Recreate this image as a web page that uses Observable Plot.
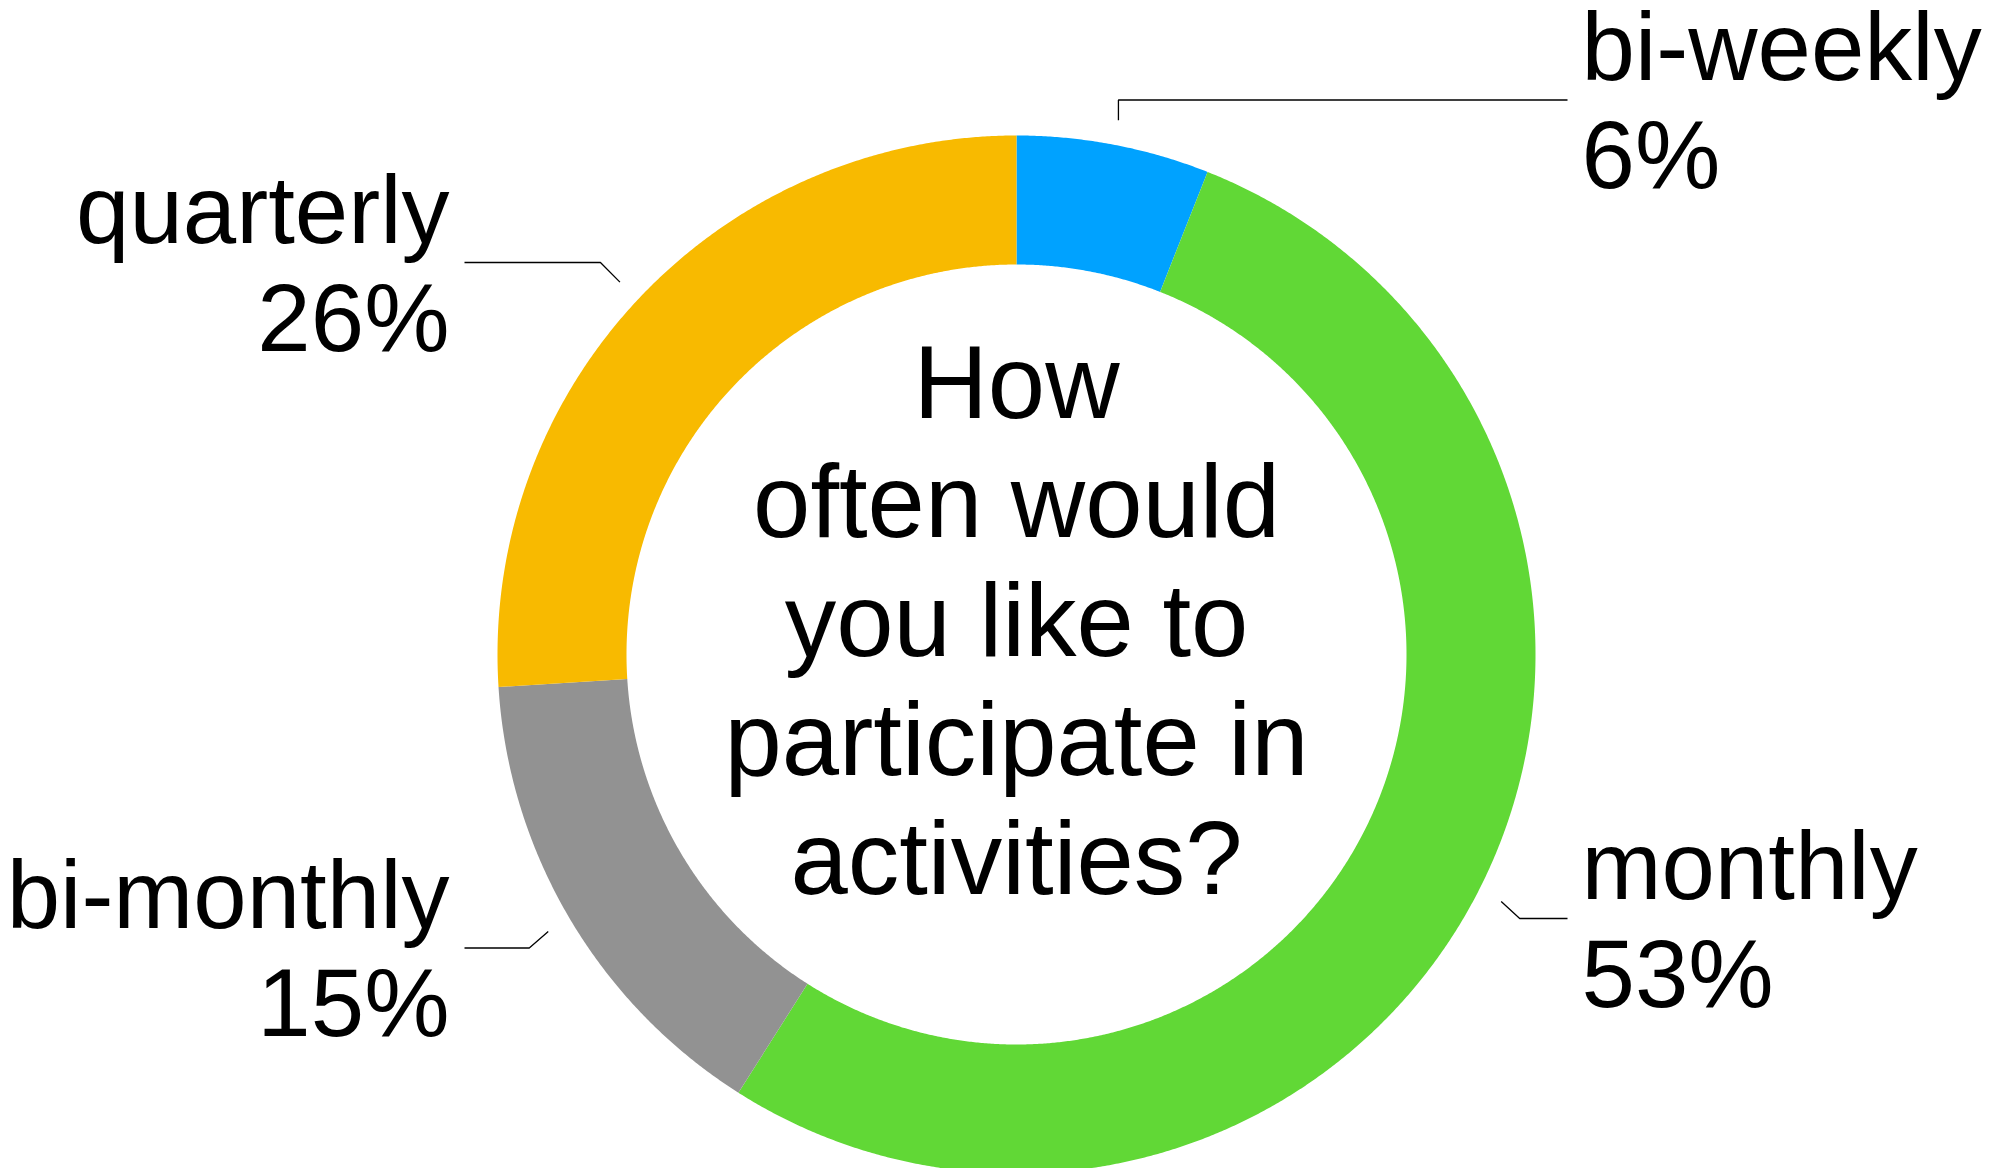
<!DOCTYPE html>
<html>
<head>
<meta charset="utf-8">
<script src="https://cdn.jsdelivr.net/npm/d3@7"></script>
<script src="https://cdn.jsdelivr.net/npm/@observablehq/plot@0.6"></script>
<style>
html, body { margin: 0; padding: 0; background: #fff; overflow: hidden; }
#chart svg { display: block; }
</style>
</head>
<body>
<div id="chart"></div>
<script>
// ---- data ----
const categories = ["bi-weekly", "monthly", "bi-monthly", "quarterly"];
const percents = [6, 53, 15, 26];
const colors = ["#00A2FF", "#61D836", "#929292", "#F8BA00"];
const question = "How\noften would\nyou like to\nparticipate in\nactivities?";

// ---- layout (pixels) ----
const W = 1998, H = 1168;
const cx = 1016, cy = 654, rOuter = 519, rInner = 390, rLeader = 544;
const labelLayout = {
  "bi-weekly":  {side: "right", lineY: 99.5, bendX: 0},
  "monthly":    {side: "right", lineY: 918,  bendX: 18.5},
  "bi-monthly": {side: "left",  lineY: 947.5, bendX: -19},
  "quarterly":  {side: "left",  lineY: 262,  bendX: -19.5}
};
const leftTextX = 449, rightTextX = 1581, leftLineX = 464, rightLineX = 1567;
const labelFont = 96, centerFont = 103, centerLine = 119;
const FONT = "'Liberation Sans', Arial, Helvetica, sans-serif";

// ---- geometry from data ----
const arcs = d3.pie().sort(null).value(d => d)(percents);
const polar = (r, a) => ({x: cx + r * Math.sin(a), y: cy - r * Math.cos(a)});

const slicePts = [];
arcs.forEach((p, i) => {
  const a0 = p.startAngle, a1 = p.endAngle;
  const n = Math.max(2, Math.ceil((a1 - a0) / (Math.PI / 720)));
  for (let k = 0; k <= n; k++) slicePts.push({category: categories[i], ...polar(rOuter, a0 + (a1 - a0) * k / n)});
  for (let k = n; k >= 0; k--) slicePts.push({category: categories[i], ...polar(rInner, a0 + (a1 - a0) * k / n)});
});

const leaderPts = [];
const labels = [];
arcs.forEach((p, i) => {
  const c = categories[i], L = labelLayout[c];
  const mid = (p.startAngle + p.endAngle) / 2;
  const s = polar(rLeader, mid);
  const endX = L.side === "right" ? rightLineX : leftLineX;
  leaderPts.push({category: c, x: s.x, y: s.y});
  leaderPts.push({category: c, x: s.x + L.bendX, y: L.lineY});
  leaderPts.push({category: c, x: endX, y: L.lineY});
  labels.push({
    category: c,
    value: `${percents[i]}%`,
    side: L.side,
    x: L.side === "right" ? rightTextX : leftTextX,
    nameY: L.lineY - 20,
    valueY: L.lineY + 88
  });
});
const rightLabels = labels.filter(d => d.side === "right");
const leftLabels = labels.filter(d => d.side === "left");

const center = [{text: question, x: cx, y: cy + 2 * centerLine + 1}];

const labelOpts = {lineAnchor: "bottom", fontSize: labelFont, fill: "#000"};

const chart = Plot.plot({
  width: W,
  height: H,
  margin: 0,
  x: {domain: [0, W], range: [0, W], axis: null},
  y: {domain: [0, H], range: [0, H], axis: null},
  color: {domain: categories, range: colors},
  style: {fontFamily: FONT, background: "#fff", color: "#000", overflow: "hidden"},
  marks: [
    Plot.line(slicePts, {x: "x", y: "y", z: "category", fill: "category", stroke: "none"}),
    Plot.line(leaderPts, {x: "x", y: "y", z: "category", stroke: "#000", strokeWidth: 1.3, strokeLinecap: "butt", strokeLinejoin: "miter"}),
    Plot.text(rightLabels, {x: "x", y: "nameY", text: "category", textAnchor: "start", ...labelOpts}),
    Plot.text(rightLabels, {x: "x", y: "valueY", text: "value", textAnchor: "start", ...labelOpts}),
    Plot.text(leftLabels, {x: "x", y: "nameY", text: "category", textAnchor: "end", ...labelOpts}),
    Plot.text(leftLabels, {x: "x", y: "valueY", text: "value", textAnchor: "end", ...labelOpts}),
    Plot.text(center, {x: "x", y: "y", text: "text", textAnchor: "middle", lineAnchor: "bottom", lineHeight: centerLine / centerFont, fontSize: centerFont, fill: "#000"})
  ]
});
document.getElementById("chart").appendChild(chart);
</script>
</body>
</html>
